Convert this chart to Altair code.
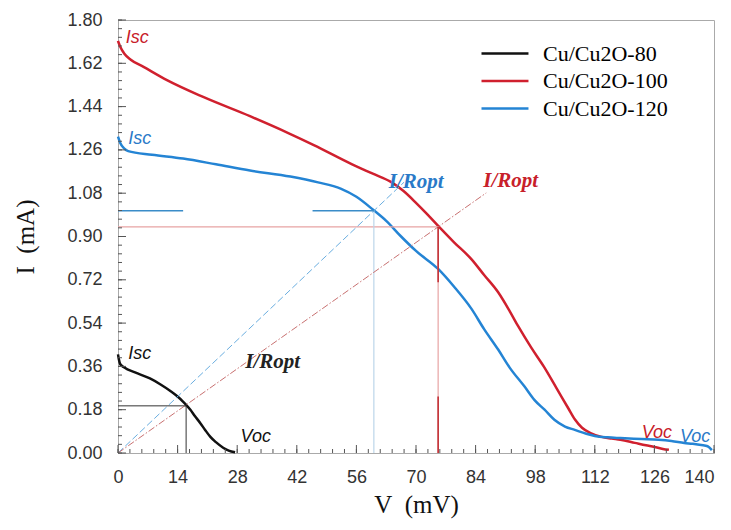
import altair as alt
import pandas as pd

# ---- data ----
V_80 = [0, 0.2, 0.5, 1.5, 4, 7.5, 10, 12.3, 14, 15.2, 16.0, 17.0, 18.0, 19.3, 20.5, 21.7, 23.0,
        24.7, 26.0, 27.5]
I_80 = [0.41, 0.39, 0.37, 0.355, 0.335, 0.31, 0.285, 0.258, 0.235, 0.215, 0.200, 0.18, 0.155,
        0.125, 0.095, 0.067, 0.045, 0.022, 0.010, 0.003]

V_100 = [0, 0.5, 1.5, 3, 6, 11.5, 20, 31, 40, 46, 55, 60, 64, 67, 70, 72.5, 75.2, 79, 83, 86, 89.3,
         92, 94, 97, 100, 103, 105.8, 107.3, 109, 111, 113.6, 116, 118, 121.4, 124, 126, 128, 129.4]
I_100 = [1.713, 1.69, 1.66, 1.635, 1.605, 1.55, 1.48, 1.40, 1.33, 1.28, 1.20, 1.16, 1.128, 1.09,
         1.04, 0.995, 0.944, 0.875, 0.806, 0.74, 0.668, 0.59, 0.527, 0.44, 0.36, 0.27, 0.185, 0.14,
         0.105, 0.083, 0.067, 0.06, 0.055, 0.042, 0.032, 0.025, 0.017, 0.013]

V_120 = [0, 0.5, 1.5, 2.4, 8, 15.3, 23, 31, 40.5, 47, 52.3, 56, 60, 63, 66.5, 70, 75.2, 79, 83, 86,
         89.3, 92, 95.5, 97.8, 100.2, 102.5, 105, 107.3, 110, 112, 115, 118, 123, 127, 130, 133,
         135, 137, 138.5, 139.5]
I_120 = [1.315, 1.29, 1.265, 1.255, 1.24, 1.224, 1.20, 1.174, 1.149, 1.125, 1.099, 1.065, 1.010,
         0.965, 0.90, 0.84, 0.765, 0.69, 0.60, 0.515, 0.43, 0.355, 0.276, 0.221, 0.18, 0.138, 0.11,
         0.096, 0.08, 0.071, 0.065, 0.062, 0.058, 0.055, 0.05, 0.042, 0.038, 0.033, 0.028, 0.012]

SERIES = ["Cu/Cu2O-80", "Cu/Cu2O-100", "Cu/Cu2O-120"]
COLORS = ["#111111", "#d0202e", "#2484d4"]

X_TICKS = [0, 14, 28, 42, 56, 70, 84, 98, 112, 126, 140]
Y_TICKS = [0.00, 0.18, 0.36, 0.54, 0.72, 0.90, 1.08, 1.26, 1.44, 1.62, 1.80]
X_MINOR = [round(i * 2.8, 2) for i in range(51)]
Y_MINOR = [round(i * 0.036, 3) for i in range(51)]

# optimum points (V, I)
OPT_RED = (75.2, 0.94)
OPT_BLUE = (60.1, 1.007)
OPT_BLACK = (16.0, 0.196)

# ---- tables ----
curves = pd.concat([
    pd.DataFrame({"V": V_80, "I": I_80, "series": SERIES[0]}),
    pd.DataFrame({"V": V_100, "I": I_100, "series": SERIES[1]}),
    pd.DataFrame({"V": V_120, "I": I_120, "series": SERIES[2]}),
])

xs = alt.Scale(domain=[0, 140], nice=False, zero=False)
ys = alt.Scale(domain=[0, 1.8], nice=False, zero=False)

W, H = 596, 433

lines = alt.Chart(curves).mark_line(strokeWidth=2.5, interpolate="monotone").encode(
    x=alt.X("V:Q", scale=xs, title="V\u2002(mV)",
            axis=alt.Axis(values=X_TICKS, format="d", labelFlush=False,
                          labelAlign={"condition": {"test": "datum.value >= 140", "value": "right"},
                                      "value": "center"})),
    y=alt.Y("I:Q", scale=ys, title="I\u2002(mA)",
            axis=alt.Axis(values=Y_TICKS, format=".2f", labelFlush=False)),
    color=alt.Color("series:N", scale=alt.Scale(domain=SERIES, range=COLORS),
                    legend=alt.Legend(orient="none", legendX=362, legendY=21, title=None,
                                      symbolType="M-1,0H3.27", symbolSize=484,
                                      symbolStrokeWidth=2.5, labelOffset=38,
                                      labelFont="Liberation Serif", labelFontSize=22,
                                      labelColor="#000", rowPadding=3.5, padding=0)),
    order=alt.Order("V:Q"),
)


def seg(rows):
    return pd.DataFrame(rows, columns=["V", "I", "V2", "I2"])


def rule_layer(df, color, width=1.0, dash=None, opacity=1.0):
    kw = dict(color=color, strokeWidth=width, opacity=opacity)
    if dash:
        kw["strokeDash"] = dash
    return alt.Chart(df).mark_rule(**kw).encode(
        x=alt.X("V:Q", scale=xs), y=alt.Y("I:Q", scale=ys),
        x2="V2:Q", y2="I2:Q")


rv, ri = OPT_RED
bv, bi = OPT_BLUE
kv, ki = OPT_BLACK

pale_red = rule_layer(seg([(0, ri, rv, ri), (rv, 0, rv, ri)]), "#e7a3a3", 1.2)
dark_red = rule_layer(seg([(rv, ri, rv, 0.71), (rv, 0.235, rv, 0)]), "#c0282e", 1.5)
pale_blue = rule_layer(seg([(bv, 0, bv, bi)]), "#bcd6ea", 1.2)
dark_blue = rule_layer(seg([(0, bi, 15.3, bi), (45.7, bi, bv, bi)]), "#3a8cc8", 1.5)
black_l = rule_layer(seg([(0, ki, kv, ki), (kv, 0, kv, ki)]), "#333333", 1.0)
diag_blue = rule_layer(seg([(0, 0, 67.2, 67.2 * bi / bv)]), "#6aaee0", 1.0, [7, 3])
diag_red = rule_layer(seg([(0, 0, 86.5, 86.5 * ri / rv)]), "#c87070", 1.0, [7, 2, 1.5, 2])


# inward ticks
def xtick(vals, length):
    return alt.Chart(pd.DataFrame({"V": vals})).mark_rule(color="#555", strokeWidth=1).encode(
        x=alt.X("V:Q", scale=xs), y=alt.value(H), y2=alt.value(H - length))


def ytick(vals, length):
    return alt.Chart(pd.DataFrame({"I": vals})).mark_rule(color="#555", strokeWidth=1).encode(
        y=alt.Y("I:Q", scale=ys), x=alt.value(0), x2=alt.value(length))


ticks = [xtick(X_MINOR, 4), xtick(X_TICKS, 8), ytick(Y_MINOR, 4), ytick(Y_TICKS, 8)]

# labels
lab_sans = pd.DataFrame({
    "text": ["Isc", "Isc", "Isc", "Voc", "Voc", "Voc"],
    "V": [1.8, 2.4, 2.4, 28.8, 123.0, 132.0],
    "I": [1.725, 1.307, 0.41, 0.067, 0.084, 0.067],
    "c": ["#c8202a", "#2a7ac8", "#111111", "#111111", "#c8202a", "#2a7ac8"],
})
lab_serif = pd.DataFrame({
    "text": ["I/Ropt", "I/Ropt", "I/Ropt"],
    "V": [63.6, 85.8, 29.9],
    "I": [1.128, 1.132, 0.38],
    "c": ["#2a7ac8", "#c8202a", "#222222"],
})

t_sans = alt.Chart(lab_sans).mark_text(align="left", baseline="middle", font="Liberation Sans",
                                       fontStyle="italic", fontSize=18).encode(
    x=alt.X("V:Q", scale=xs), y=alt.Y("I:Q", scale=ys),
    text="text:N", color=alt.Color("c:N", scale=None))
t_serif = alt.Chart(lab_serif).mark_text(align="left", baseline="middle", font="Liberation Serif",
                                         fontStyle="italic", fontWeight="bold", fontSize=21).encode(
    x=alt.X("V:Q", scale=xs), y=alt.Y("I:Q", scale=ys),
    text="text:N", color=alt.Color("c:N", scale=None))

chart = alt.layer(
    lines, pale_red, pale_blue, diag_blue, diag_red, black_l, dark_red, dark_blue,
    *ticks, t_sans, t_serif
).properties(
    width=W, height=H,
    autosize=alt.AutoSizeParams(type="none"),
    padding={"left": 110, "top": 12, "right": 9, "bottom": 69},
).configure_view(
    stroke="#aaaaaa", strokeWidth=1
).configure_axis(
    grid=False, ticks=False, domainColor="#aaaaaa",
    labelFont="Liberation Sans", labelFontSize=18, labelColor="#333",
    titleFont="Liberation Serif", titleFontSize=25, titleFontWeight="normal", titleColor="#111",
).configure_axisX(labelPadding=15, titlePadding=6).configure_axisY(labelPadding=16, titlePadding=28)

chart.save("out.html", embed_options={"renderer": "svg", "actions": False})
